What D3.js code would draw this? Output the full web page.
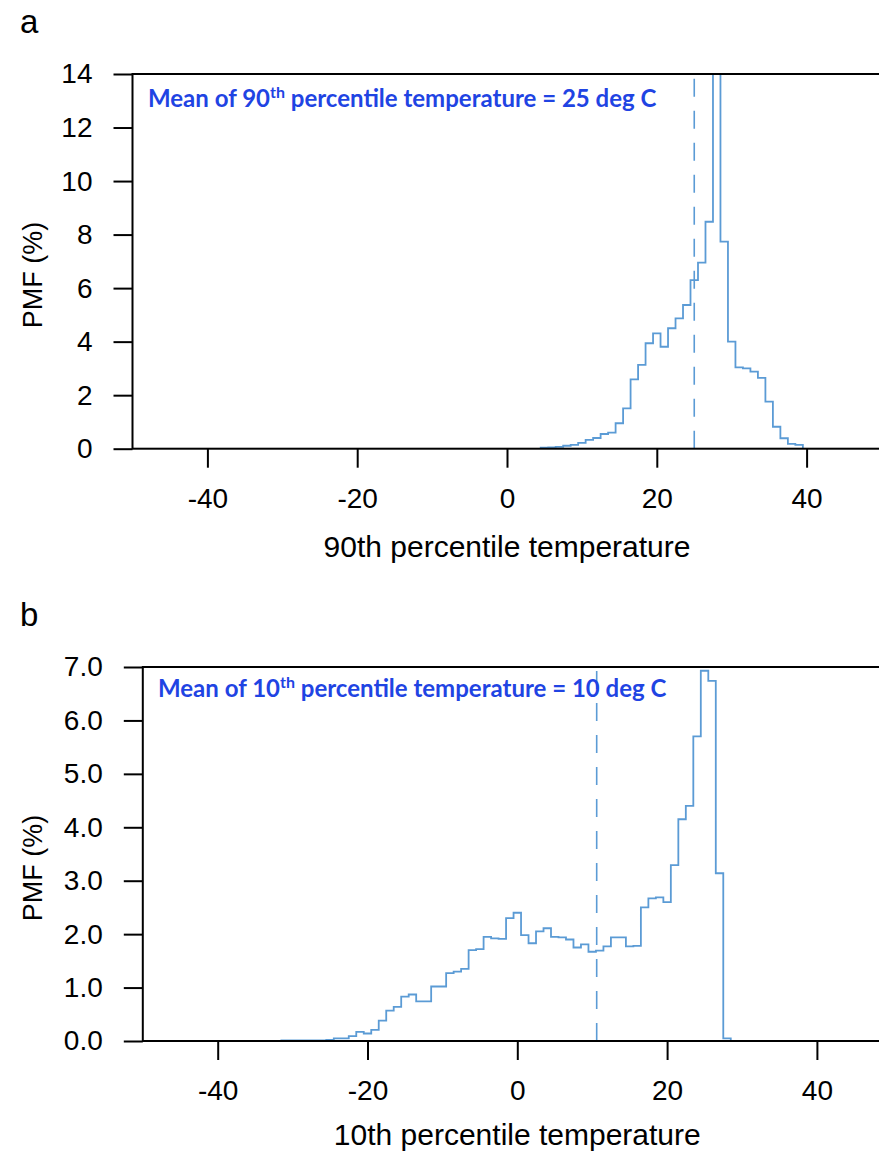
<!DOCTYPE html>
<html>
<head>
<meta charset="utf-8">
<script src="https://cdn.jsdelivr.net/npm/d3@7"></script>
<style>
  body { margin: 0; background: #fff; }
  svg { display: block; }
</style>
</head>
<body>
<script>
// bin centres (deg C, 1 degree bins) and PMF values (%)
var binsA = d3.range(5, 40);
var pmfA = [0.04, 0.05, 0.07, 0.11, 0.14, 0.22, 0.33, 0.40, 0.55, 0.60,
            0.95, 1.51, 2.59, 3.13, 3.94, 4.31, 3.81, 4.50, 4.87, 5.37,
            6.30, 6.95, 8.48, 14.2, 7.74, 4.00, 3.04, 3.00, 2.88, 2.65,
            1.76, 0.82, 0.39, 0.18, 0.14];
var meanA = 25;

var binsB = d3.range(-31, 29);
var pmfB = [0.01, 0.01, 0.01, 0.01, 0.01, 0.01, 0.02, 0.05, 0.05, 0.09,
            0.17, 0.14, 0.21, 0.38, 0.57, 0.64, 0.83, 0.87, 0.74, 0.74,
            1.02, 1.02, 1.27, 1.30, 1.35, 1.70, 1.72, 1.95, 1.92, 1.91,
            2.30, 2.40, 1.98, 1.83, 2.05, 2.11, 1.95, 1.94, 1.90, 1.75,
            1.81, 1.67, 1.69, 1.77, 1.94, 1.94, 1.77, 1.78, 2.50, 2.67,
            2.69, 2.60, 3.29, 4.15, 4.40, 5.70, 6.93, 6.74, 3.14, 0.05];
var meanB = 10.6;

var xTicks = [-40, -20, 0, 20, 40];
var yTicksA = [0, 2, 4, 6, 8, 10, 12, 14];
var yTicksB = [0, 1, 2, 3, 4, 5, 6, 7];

var lineColor = "#5b9bd5";
var textBlue = "#1f44e3";

var svg = d3.select("body").append("svg")
    .attr("width", 879)
    .attr("height", 1155);

svg.append("rect").attr("width", 879).attr("height", 1155).attr("fill", "#fff");

function drawPanel(opt){
    var x = d3.scaleLinear().domain([-50, 50]).range([opt.left, opt.left + 749]);
    var y = d3.scaleLinear().domain([0, opt.ymax]).range([opt.bottom, opt.top]);

    var g = svg.append("g");

    // panel letter
    g.append("text")
        .attr("x", 20)
        .attr("y", opt.top - 41)
        .style("font-family", "Liberation Sans, Arial, sans-serif")
        .style("font-size", "33px")
        .text(opt.letter);

    g.append("clipPath").attr("id", "clip" + opt.letter)
      .append("rect")
        .attr("x", opt.left).attr("y", opt.top)
        .attr("width", 749).attr("height", opt.bottom - opt.top);

    // histogram as a step outline
    var pts = [{x: opt.bins[0] - 0.5, y: 0}];
    opt.bins.forEach(function(c, i){ pts.push({x: c - 0.5, y: opt.pmf[i]}); });
    var last = opt.bins[opt.bins.length - 1];
    pts.push({x: last + 0.5, y: opt.pmf[opt.pmf.length - 1]});
    pts.push({x: last + 0.5, y: 0});

    var line = d3.line()
        .x(function(d){ return x(d.x); })
        .y(function(d){ return y(d.y); })
        .curve(d3.curveStepAfter);

    g.append("path")
        .datum(pts)
        .attr("clip-path", "url(#clip" + opt.letter + ")")
        .attr("fill", "none")
        .attr("stroke", lineColor)
        .attr("stroke-width", 1.8)
        .attr("d", line);

    // mean line
    g.append("line")
        .attr("x1", x(opt.mean)).attr("x2", x(opt.mean))
        .attr("y1", y(0)).attr("y2", opt.top)
        .attr("stroke", lineColor)
        .attr("stroke-width", 1.6)
        .attr("stroke-dasharray", "18,14");

    // frame
    g.append("rect")
        .attr("x", opt.left).attr("y", opt.top)
        .attr("width", 749).attr("height", opt.bottom - opt.top)
        .attr("fill", "none")
        .attr("stroke", "#000")
        .attr("stroke-width", 2);

    // plain hyphen for negatives, like the original
    var xAxis = d3.axisBottom(x).tickValues(xTicks).tickSize(19).tickPadding(20)
        .tickFormat(function(d){ return String(d); });
    var yAxis = d3.axisLeft(y).tickValues(opt.yTicks).tickSize(19).tickPadding(21)
        .tickFormat(opt.yFormat);

    var gx = g.append("g")
        .attr("transform", "translate(0," + opt.bottom + ")")
        .call(xAxis);
    var gy = g.append("g")
        .attr("transform", "translate(" + opt.left + ",0)")
        .call(yAxis);

    [gx, gy].forEach(function(a){
        a.select(".domain").remove();
        a.selectAll(".tick line").attr("stroke", "#000").attr("stroke-width", 2);
        a.selectAll(".tick text")
            .attr("fill", "#000")
            .style("font-family", "Liberation Sans, Arial, sans-serif")
            .style("font-size", "28px");
    });

    // axis titles
    g.append("text")
        .attr("x", x(0))
        .attr("y", opt.bottom + opt.titleDy)
        .attr("text-anchor", "middle")
        .style("font-family", "Liberation Sans, Arial, sans-serif")
        .style("font-size", "30px")
        .text(opt.xTitle);

    g.append("text")
        .attr("transform", "translate(" + 42 + "," + (opt.top + 201) + ") rotate(-90)")
        .attr("text-anchor", "middle")
        .style("font-family", "Liberation Sans, Arial, sans-serif")
        .style("font-size", "27px")
        .text("PMF (%)");

    // annotation
    var t = g.append("text")
        .attr("x", opt.noteX)
        .attr("y", opt.top + opt.noteDy)
        .attr("fill", textBlue)
        .style("font-family", "Lato, 'Open Sans', sans-serif")
        .style("font-weight", "bold")
        .style("font-size", "24px");
    t.append("tspan").text("Mean of " + opt.pct);
    t.append("tspan").attr("dy", -9).style("font-size", "16px").text("th");
    t.append("tspan").attr("dy", 9).text(" percentile temperature = " + opt.meanLabel + " deg C");
}

drawPanel({
    letter: "a", left: 132.5, top: 74, bottom: 448.7, ymax: 14,
    bins: binsA, pmf: pmfA, mean: meanA, yTicks: yTicksA,
    yFormat: function(d){ return String(d); }, xTitle: "90th percentile temperature",
    titleDy: 108, noteX: 148, noteDy: 33, pct: "90", meanLabel: "25"
});

drawPanel({
    letter: "b", left: 142.8, top: 667, bottom: 1041, ymax: 7,
    bins: binsB, pmf: pmfB, mean: meanB, yTicks: yTicksB,
    yFormat: d3.format(".1f"), xTitle: "10th percentile temperature",
    titleDy: 104, noteX: 158, noteDy: 30, pct: "10", meanLabel: "10"
});
</script>
</body>
</html>
